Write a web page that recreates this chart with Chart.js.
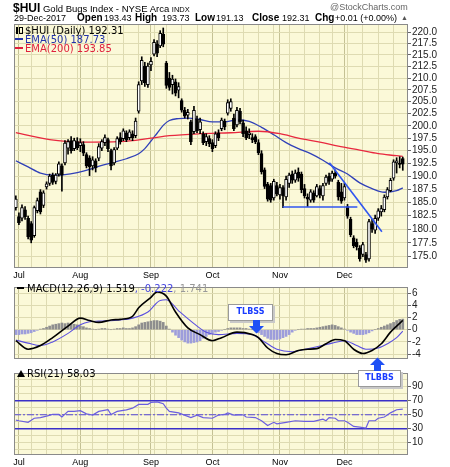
<!DOCTYPE html>
<html>
<head>
<meta charset="utf-8">
<script src="https://cdn.jsdelivr.net/npm/chart.js@4.4.1/dist/chart.umd.min.js"></script>
<style>
    body { margin: 0; width: 450px; height: 467px; overflow: hidden; position: relative; background: #fff; font-family: "Liberation Sans", Arial, sans-serif; }
    canvas { position: absolute; left: 0; }
    .t { position: absolute; white-space: nowrap; line-height: 10px; color: #000; }
    .lg { position: absolute; white-space: nowrap; line-height: 9px; font-family: "DejaVu Sans", sans-serif; font-size: 10px; }
    .box { position: absolute; background: #fff; border: 1px solid #9a9a9a; box-shadow: 2px 2px 0 #c8c8c8; text-align: center;
           font-family: "DejaVu Sans", sans-serif; font-weight: bold; font-size: 8px; color: #1a3cff; line-height: 14px; }
</style>
</head>
<body>
<canvas id="priceChart" width="450" height="280" style="top:0"></canvas>
<canvas id="macdChart" width="450" height="86" style="top:280px"></canvas>
<canvas id="rsiChart" width="450" height="101" style="top:366px"></canvas>

<div class="t" style="left:13px; top:1px; line-height:12px;">
    <b style="font-size:12px">$HUI</b><span style="font-size:9.5px"> Gold Bugs Index - NYSE Arca </span><span style="font-size:7.5px">INDX</span>
</div>
<div class="t" style="left:330px; top:2px; font-size:9px; color:#666;">@StockCharts.com</div>
<div class="t" style="left:14px; top:13px; font-size:9px;">29-Dec-2017</div>
<div class="t" style="left:77px; top:13px; font-size:10px; font-weight:bold;">Open</div>
<div class="t" style="left:104px; top:13px; font-size:9px;">193.43</div>
<div class="t" style="left:135px; top:13px; font-size:10px; font-weight:bold;">High</div>
<div class="t" style="left:162px; top:13px; font-size:9px;">193.73</div>
<div class="t" style="left:195px; top:13px; font-size:10px; font-weight:bold;">Low</div>
<div class="t" style="left:216px; top:13px; font-size:9px;">191.13</div>
<div class="t" style="left:252px; top:13px; font-size:10px; font-weight:bold;">Close</div>
<div class="t" style="left:282px; top:13px; font-size:9px;">192.31</div>
<div class="t" style="left:315px; top:13px; font-size:10px; font-weight:bold;">Chg</div>
<div class="t" style="left:335px; top:13px; font-size:9px;">+0.01 (+0.00%)</div>
<div class="t" style="left:401px; top:13px; font-size:7px; color:#555;">▲</div>

<div class="lg" style="left:16px; top:26px;"><span style="display:inline-block;width:2px;height:7px;background:#000;margin-right:1px"></span><span style="display:inline-block;width:2px;height:5px;border:1px solid #000;margin-right:2px"></span>$HUI (Daily) 192.31</div>
<div class="lg" style="left:15px; top:35px; color:#2233aa;"><span style="display:inline-block;width:8px;height:2px;background:#2233aa;vertical-align:3px;margin-right:2px"></span>EMA(50) 187.73</div>
<div class="lg" style="left:15px; top:44px; color:#e0203c;"><span style="display:inline-block;width:8px;height:2px;background:#e0203c;vertical-align:3px;margin-right:2px"></span>EMA(200) 193.85</div>
<div class="lg" style="left:17px; top:284px;"><span style="display:inline-block;width:7px;height:2px;background:#000;vertical-align:3px;margin-right:3px"></span>MACD(12,26,9) 1.519<span style="color:#4444dd">, -0.222</span><span style="color:#999">, 1.741</span></div>
<div class="lg" style="left:17px; top:369px;"><span style="display:inline-block;width:0;height:0;border-left:4px solid transparent;border-right:4px solid transparent;border-bottom:7px solid #000;margin-right:2px"></span>RSI(21) 58.03</div>

<div class="box" style="left:228px; top:304px; width:43px; height:15px;">TLBSS</div>
<svg style="position:absolute; left:248px; top:320px" width="17" height="14"><path d="M5 0 H12 V6 H16 L8.5 13.5 L1 6 H5 Z" fill="#1f50f5"/></svg>
<div class="box" style="left:358px; top:370px; width:41px; height:15px;">TLBBS</div>
<svg style="position:absolute; left:369px; top:357px" width="17" height="14"><path d="M8.5 0.5 L16 8 H12 V14 H5 V8 H1 Z" fill="#1f50f5"/></svg>

<script>
// daily bars, 30-Jun-2017 .. 29-Dec-2017 (index 0 .. 126)
const opens = [
    184.0, 182.3, 182.0, 183.6, 182.0, 181.0, 178.8, 183.4, 187.0, 184.4,
    187.9, 188.6, 190.2, 189.0, 190.4, 192.0, 192.6, 195.5, 197.0, 195.4,
    196.8, 196.0, 196.2, 194.2, 193.6, 192.0, 193.0, 193.5, 195.5, 196.6,
    197.2, 195.0, 192.6, 195.5, 197.6, 197.4, 198.6, 197.6, 198.4, 198.0,
    203.0, 209.4, 212.6, 208.6, 212.8, 215.2, 217.4, 217.0, 219.6, 213.2,
    210.0, 208.6, 209.2, 207.4, 205.2, 203.2, 202.2, 200.8, 198.8, 201.4,
    199.2, 198.4, 196.8, 197.4, 196.6, 196.0, 198.6, 199.4, 201.0, 202.6,
    203.6, 201.6, 200.2, 203.0, 200.6, 199.0, 198.2, 197.6, 197.8, 196.6,
    194.4, 191.2, 188.4, 188.2, 185.8, 188.2, 186.4, 187.8, 186.0, 188.6,
    190.4, 189.2, 190.8, 190.4, 187.6, 186.0, 185.4, 186.8, 186.2, 187.6,
    186.2, 188.6, 190.0, 189.4, 190.6, 188.8, 187.0, 185.8, 184.2, 181.8,
    178.4, 177.6, 176.6, 175.4, 175.4, 174.6, 181.0, 179.8, 182.0, 183.2,
    183.6, 186.0, 187.2, 189.6, 192.6, 192.4, 193.43
];
const highs = [
    186.2, 183.0, 184.5, 184.2, 182.4, 181.4, 184.3, 185.8, 187.4, 187.2,
    188.9, 190.4, 190.6, 190.5, 192.8, 192.4, 197.0, 197.2, 197.8, 197.5,
    197.6, 197.4, 196.8, 194.6, 194.0, 193.8, 193.4, 196.4, 197.2, 198.2,
    197.5, 195.3, 195.6, 197.8, 198.6, 199.4, 199.0, 199.2, 199.0, 201.6,
    209.2, 214.6, 213.4, 213.2, 214.4, 218.4, 218.2, 220.4, 221.0, 213.6,
    211.2, 210.6, 209.8, 209.0, 205.6, 203.8, 203.4, 201.2, 204.0, 202.0,
    201.6, 198.8, 198.4, 198.0, 197.2, 198.8, 199.2, 201.6, 201.4, 205.4,
    205.6, 202.4, 203.8, 203.6, 201.2, 199.8, 199.4, 198.4, 198.2, 197.2,
    195.0, 191.6, 188.8, 188.6, 189.4, 188.8, 188.4, 188.2, 190.0, 190.6,
    191.0, 191.2, 191.6, 190.8, 188.4, 186.6, 187.4, 187.2, 188.4, 188.2,
    188.6, 190.2, 190.6, 191.0, 191.2, 189.2, 188.6, 188.6, 184.6, 182.2,
    178.8, 178.2, 177.0, 177.6, 175.8, 181.8, 181.8, 182.6, 183.8, 184.4,
    186.4, 187.8, 189.6, 193.2, 193.6, 193.8, 193.73
];
const lows = [
    183.5, 180.8, 181.5, 181.8, 178.2, 177.5, 178.5, 183.0, 182.8, 184.0,
    187.5, 188.2, 188.4, 188.5, 190.0, 187.1, 192.2, 194.3, 194.5, 195.0,
    195.2, 194.8, 194.0, 191.6, 190.1, 191.2, 190.8, 193.0, 195.0, 196.0,
    194.8, 191.2, 192.2, 195.2, 196.3, 197.0, 196.8, 197.2, 197.0, 197.6,
    202.6, 208.6, 208.2, 208.0, 211.6, 214.8, 214.6, 216.6, 216.8, 207.8,
    207.4, 206.6, 206.2, 205.8, 202.8, 201.6, 201.4, 196.2, 198.4, 198.6,
    198.4, 196.2, 196.0, 195.8, 194.8, 195.6, 197.0, 199.0, 199.2, 202.2,
    203.0, 199.0, 199.8, 200.4, 197.8, 197.2, 197.4, 196.6, 196.4, 194.2,
    190.4, 187.6, 185.2, 185.0, 185.4, 186.2, 185.6, 184.0, 185.4, 187.8,
    188.6, 188.8, 189.0, 186.8, 185.8, 184.2, 185.0, 185.0, 186.0, 185.8,
    185.4, 188.2, 188.4, 189.0, 189.6, 185.4, 184.8, 185.4, 182.0, 178.6,
    176.6, 176.2, 174.2, 175.0, 174.0, 174.2, 179.4, 179.2, 181.6, 182.4,
    183.2, 185.6, 187.0, 189.2, 190.6, 191.6, 191.13
];
const closes = [
    185.6, 181.2, 184.0, 182.3, 178.6, 178.0, 184.0, 185.3, 183.2, 186.8,
    188.5, 190.0, 188.8, 190.2, 192.4, 190.2, 196.5, 196.8, 195.0, 197.0,
    195.6, 196.6, 194.5, 192.0, 191.8, 193.2, 191.6, 195.8, 196.8, 197.6,
    195.4, 192.0, 195.2, 197.4, 196.8, 199.0, 197.2, 198.8, 197.6, 201.0,
    208.6, 213.8, 209.0, 212.6, 213.6, 217.8, 215.4, 219.8, 217.4, 208.4,
    208.0, 209.8, 206.8, 208.2, 203.2, 202.0, 202.8, 196.8, 203.2, 199.0,
    200.8, 196.6, 197.8, 196.4, 195.4, 198.4, 197.6, 201.2, 199.8, 204.8,
    205.0, 199.4, 203.2, 200.8, 198.4, 197.6, 198.6, 197.2, 196.8, 194.6,
    190.8, 188.0, 185.6, 185.4, 189.0, 186.6, 187.8, 186.2, 189.4, 190.2,
    189.2, 190.6, 189.6, 187.4, 186.2, 185.6, 187.0, 185.4, 188.0, 186.4,
    188.2, 189.8, 189.0, 190.6, 190.0, 186.0, 185.2, 188.0, 182.4, 179.0,
    177.0, 176.8, 174.6, 177.2, 174.4, 181.4, 180.0, 182.0, 183.4, 183.8,
    186.0, 187.4, 189.2, 192.8, 193.0, 192.3, 192.31
];

const monthLabels = ['Jul', 'Aug', 'Sep', 'Oct', 'Nov', 'Dec'];
const monthStarts = [1, 21, 44, 64, 86, 107];
const weekStarts = [1, 5, 10, 15, 20, 25, 30, 35, 40, 45, 49, 54, 59, 64, 69, 74, 79, 84, 89, 94, 99, 103, 108, 113, 118, 123];

const priceTicks = [175, 177.5, 180, 182.5, 185, 187.5, 190, 192.5, 195, 197.5, 200, 202.5, 205, 207.5, 210, 212.5, 215, 217.5, 220];

const ema50Idx = [0, 4, 8, 12, 16, 20, 24, 28, 32, 36, 40, 42, 44, 46, 48, 50, 53, 56, 60, 64, 68, 72, 76, 80, 84, 88, 92, 96, 100, 104, 108, 112, 116, 120, 124, 126];
const ema50 = [193.0, 191.8, 190.6, 190.2, 190.3, 190.7, 191.3, 192.1, 192.7, 193.4, 194.4, 195.4, 196.9, 198.5, 200.1, 201.1, 201.5, 201.6, 201.3, 200.8, 200.8, 201.2, 200.9, 199.7, 198.2, 196.6, 195.4, 194.4, 193.1, 191.6, 190.4, 188.7, 187.6, 186.9, 187.2, 187.73];
const ema200Idx = [0, 11, 21, 34, 44, 50, 60, 70, 79, 86, 92, 99, 105, 112, 118, 124, 126];
const ema200 = [198.6, 197.2, 196.7, 196.8, 197.5, 198.0, 198.4, 198.6, 198.9, 198.4, 197.5, 196.7, 195.9, 195.1, 194.4, 194.0, 193.85];

// hand drawn trendlines
const supportIdx = [86.9, 111.2];
const supportPrice = [184.1, 184.1];
const downTrendIdx = [102.1, 119.2];
const downTrendPrice = [192.6, 179.5];

const macdTicks = [-4, -2, 0, 2, 4, 6];
const macdIdx = [0, 4, 8, 12, 17, 21, 24, 27, 31, 34, 38, 40, 44, 46, 49, 52, 56, 60, 64, 67, 72, 77, 79, 82, 85, 88, 92, 95, 98, 101, 104, 107, 110, 113, 116, 119, 122, 124, 126];
const macd = [-1.8, -3.2, -2.6, -1.3, 0.6, 1.9, 1.5, 1.2, 1.6, 1.7, 2.2, 3.6, 5.3, 6.2, 5.5, 2.9, 0.3, -0.8, -1.8, -1.3, -0.4, -0.8, -1.3, -3.0, -3.9, -4.1, -3.4, -3.2, -3.1, -2.3, -1.6, -1.8, -3.2, -3.9, -3.4, -2.3, -0.4, 0.6, 1.519];
const signalIdx = [0, 4, 8, 12, 17, 21, 24, 27, 34, 38, 43, 47, 49, 53, 58, 62, 66, 72, 77, 81, 85, 90, 94, 98, 103, 107, 111, 114, 118, 121, 124, 126];
const signal = [-1.7, -2.2, -2.6, -2.0, -0.6, 0.8, 1.3, 1.4, 1.6, 1.9, 2.9, 4.8, 4.9, 3.1, 1.0, -0.4, -0.8, -0.6, -0.8, -2.0, -3.2, -3.6, -3.2, -2.8, -2.2, -1.8, -2.6, -3.2, -3.0, -2.3, -1.3, -0.222];
const histogram = [
    -0.8, -0.8, -0.7, -0.7, -0.6, -0.5, -0.3, -0.1, 0.1, 0.2,
    0.4, 0.6, 0.8, 0.9, 1.0, 1.1, 1.0, 1.1, 1.0, 0.9,
    0.8, 0.6, 0.5, 0.3, 0.2, 0.1, 0.0, 0.1, 0.2, 0.2,
    0.1, 0.0, 0.1, 0.2, 0.2, 0.3, 0.2, 0.2, 0.3, 0.5,
    0.8, 1.1, 1.2, 1.3, 1.4, 1.5, 1.5, 1.4, 1.2, 0.6,
    0.1, -0.4, -0.9, -1.3, -1.7, -2.0, -2.2, -2.2, -2.1, -2.0,
    -1.8, -1.4, -1.1, -0.8, -0.6, -0.4, -0.3, -0.1, 0.0, 0.2,
    0.3, 0.3, 0.3, 0.3, 0.2, 0.2, 0.1, 0.0, -0.1, -0.5,
    -0.8, -1.1, -1.4, -1.6, -1.6, -1.6, -1.5, -1.3, -1.1, -0.8,
    -0.4, -0.1, 0.0, 0.1, 0.1, 0.2, 0.2, 0.2, 0.3, 0.4,
    0.5, 0.6, 0.7, 0.8, 0.7, 0.5, 0.3, 0.1, -0.1, -0.4,
    -0.6, -0.8, -0.8, -0.8, -0.7, -0.5, -0.2, 0.0, 0.2, 0.4,
    0.6, 0.8, 1.0, 1.2, 1.5, 1.7, 1.74
];

const rsiTicks = [0, 10, 20, 30, 40, 50, 60, 70, 80, 90, 100];
const rsiLabels = [10, 30, 50, 70, 90];
const rsiLevels = [70, 50, 30];
const rsiIdx = [0, 1, 4, 5, 6, 8, 10, 12, 14, 15, 17, 19, 21, 23, 25, 27, 30, 31, 33, 36, 38, 40, 43, 44, 46, 48, 49, 50, 53, 57, 59, 61, 64, 66, 68, 69, 71, 74, 75, 78, 80, 82, 84, 85, 88, 91, 94, 97, 100, 101, 102, 104, 105, 107, 108, 110, 112, 114, 115, 117, 118, 120, 122, 124, 126];
const rsi = [42.3, 41.4, 39.2, 42.0, 45.0, 46.0, 48.0, 50.4, 50.4, 46.8, 54.8, 54.8, 55.8, 51.3, 49.5, 54.8, 57.1, 50.4, 54.8, 57.0, 59.4, 64.8, 64.8, 67.5, 68.3, 65.7, 59.4, 54.8, 52.7, 46.0, 49.5, 46.0, 45.0, 49.5, 50.4, 52.7, 49.5, 50.0, 46.8, 46.0, 41.4, 34.7, 39.2, 37.0, 39.2, 41.4, 40.5, 40.5, 43.6, 41.4, 46.0, 45.0, 41.4, 41.4, 39.2, 33.3, 32.4, 31.1, 41.4, 41.4, 45.0, 46.8, 52.7, 57.1, 58.03];

const X_MIN = -0.6;
const X_MAX = 127.7;
const BG = '#fbf9d8';
const GRID = '#dedbb2';
const GRID_MONTH = '#c4c194';
const FONT = 'Liberation Sans';

Chart.defaults.animation = false;
Chart.defaults.font.family = FONT;
Chart.defaults.plugins.legend.display = false;
Chart.defaults.plugins.tooltip.enabled = false;

const gridIdx = [...new Set([...weekStarts, ...monthStarts])].sort((a, b) => a - b);

// panel background and frame
const panelFrame = {
    id: 'panelFrame',
    beforeDraw(chart) {
        const { ctx, chartArea: a } = chart;
        ctx.save();
        ctx.fillStyle = BG;
        ctx.fillRect(a.left, a.top, a.right - a.left, a.bottom - a.top);
        ctx.restore();
    },
    afterDraw(chart) {
        const { ctx, chartArea: a } = chart;
        ctx.save();
        ctx.strokeStyle = '#8a8a8a';
        ctx.lineWidth = 1;
        ctx.strokeRect(a.left + 0.5, a.top + 0.5, a.right - a.left - 1, a.bottom - a.top - 1);
        ctx.restore();
    }
};

function xAxis(showLabels) {
    return {
        type: 'linear',
        min: X_MIN,
        max: X_MAX,
        offset: false,
        afterBuildTicks: s => { s.ticks = gridIdx.map(v => ({ value: v })); },
        grid: {
            offset: false,
            drawTicks: false,
            color: c => (c.tick && monthStarts.includes(c.tick.value)) ? GRID_MONTH : GRID
        },
        border: { display: false },
        ticks: {
            display: showLabels,
            autoSkip: false,
            maxRotation: 0,
            padding: 2,
            color: '#000',
            font: { size: 9 },
            callback: v => {
                const k = monthStarts.indexOf(v);
                return k >= 0 ? monthLabels[k] : '';
            }
        },
        afterFit: s => { s.height = showLabels ? 12 : 0; }
    };
}

function yAxis(extra) {
    return Object.assign({
        position: 'right',
        border: { display: false },
        grid: { color: GRID, tickLength: 3, tickColor: '#666' },
        afterFit: s => { s.width = 42; }
    }, extra);
}

const idx = closes.map((c, i) => i);

// price panel
new Chart(document.getElementById('priceChart'), {
    type: 'bar',
    data: {
        datasets: [
            {
                type: 'line',
                data: ema200Idx.map((x, k) => ({ x: x, y: ema200[k] })),
                borderColor: '#e8283f',
                borderWidth: 1.3,
                pointRadius: 0,
                cubicInterpolationMode: 'monotone',
                order: 3
            },
            {
                type: 'line',
                data: ema50Idx.map((x, k) => ({ x: x, y: ema50[k] })),
                borderColor: '#3040b8',
                borderWidth: 1.3,
                pointRadius: 0,
                cubicInterpolationMode: 'monotone',
                order: 3
            },
            {
                type: 'line',
                data: supportIdx.map((x, k) => ({ x: x, y: supportPrice[k] })),
                borderColor: '#2f55f0',
                borderWidth: 1.6,
                pointRadius: 0,
                order: 0
            },
            {
                type: 'line',
                data: downTrendIdx.map((x, k) => ({ x: x, y: downTrendPrice[k] })),
                borderColor: '#2f55f0',
                borderWidth: 1.6,
                pointRadius: 0,
                order: 0
            },
            {
                data: idx.map(i => ({ x: i, y: [lows[i], highs[i]] })),
                backgroundColor: '#000',
                barThickness: 1,
                grouped: false,
                minBarLength: 1,
                order: 2
            },
            {
                data: idx.map(i => ({ x: i, y: [opens[i], closes[i]] })),
                backgroundColor: idx.map(i => closes[i] >= opens[i] ? '#fff' : '#000'),
                borderColor: '#000',
                borderWidth: 1,
                borderSkipped: false,
                barThickness: 3,
                grouped: false,
                minBarLength: 1,
                order: 1
            }
        ]
    },
    options: {
        responsive: false,
        layout: { padding: { left: 14, top: 24, right: 0, bottom: 0 } },
        scales: {
            x: xAxis(true),
            y: yAxis({
                type: 'logarithmic',
                min: 173.0,
                max: 221.9,
                afterBuildTicks: s => { s.ticks = priceTicks.map(v => ({ value: v })); },
                ticks: { autoSkip: false, color: '#222', padding: 1, font: { size: 10 }, callback: v => Number(v).toFixed(1) }
            })
        }
    },
    plugins: [panelFrame]
});

// MACD panel
new Chart(document.getElementById('macdChart'), {
    type: 'bar',
    data: {
        datasets: [
            {
                type: 'line',
                data: macdIdx.map((x, k) => ({ x: x, y: macd[k] })),
                borderColor: '#000',
                borderWidth: 1.6,
                pointRadius: 0,
                cubicInterpolationMode: 'monotone',
                order: 0
            },
            {
                type: 'line',
                data: signalIdx.map((x, k) => ({ x: x, y: signal[k] })),
                borderColor: '#5a4fe0',
                borderWidth: 1.1,
                pointRadius: 0,
                cubicInterpolationMode: 'monotone',
                order: 1
            },
            {
                data: histogram.map((v, i) => ({ x: i, y: v })),
                backgroundColor: histogram.map(v => v >= 0 ? '#8e8e8e' : '#9d9ddb'),
                barThickness: 2,
                grouped: false,
                order: 2
            }
        ]
    },
    options: {
        responsive: false,
        layout: { padding: { left: 14, top: 3, right: 0, bottom: 0 } },
        scales: {
            x: xAxis(false),
            y: yAxis({
                type: 'linear',
                min: -4.8,
                max: 7.0,
                afterBuildTicks: s => { s.ticks = macdTicks.map(v => ({ value: v })); },
                ticks: { autoSkip: false, color: '#222', padding: 1, font: { size: 10 }, callback: v => String(v) }
            })
        }
    },
    plugins: [panelFrame]
});

// RSI panel
const levelSets = rsiLevels.map(v => ({
    type: 'line',
    data: [{ x: X_MIN, y: v }, { x: X_MAX, y: v }],
    borderColor: v === 50 ? '#5548d8' : '#3a30c8',
    borderWidth: v === 50 ? 1.2 : 1.5,
    borderDash: v === 50 ? [7, 2, 2, 2] : [],
    pointRadius: 0,
    order: 1
}));

new Chart(document.getElementById('rsiChart'), {
    type: 'line',
    data: {
        datasets: [
            {
                data: rsiIdx.map((x, k) => ({ x: x, y: rsi[k] })),
                borderColor: '#6a5ee0',
                borderWidth: 1.2,
                pointRadius: 0,
                order: 0
            },
            ...levelSets
        ]
    },
    options: {
        responsive: false,
        layout: { padding: { left: 14, top: 0, right: 0, bottom: 0 } },
        scales: {
            x: xAxis(true),
            y: yAxis({
                type: 'linear',
                min: -7.5,
                max: 109.6,
                afterBuildTicks: s => { s.ticks = rsiTicks.map(v => ({ value: v })); },
                grid: {
                    color: GRID,
                    tickLength: 3,
                    tickColor: c => (c.tick && rsiLabels.includes(c.tick.value)) ? '#666' : 'rgba(0,0,0,0)'
                },
                ticks: {
                    autoSkip: false, color: '#222', padding: 1, font: { size: 10 },
                    callback: v => rsiLabels.includes(v) ? String(v) : ''
                }
            })
        }
    },
    plugins: [panelFrame]
});
</script>
</body>
</html>
